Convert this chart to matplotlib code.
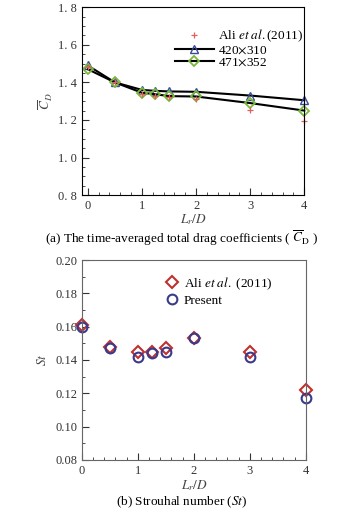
import matplotlib
matplotlib.use("Agg")
import matplotlib.pyplot as plt
from matplotlib.ticker import MultipleLocator

plt.rcParams['font.family'] = ['Liberation Serif', 'DejaVu Serif']
plt.rcParams['mathtext.fontset'] = 'stix'

# gap ratio Lr/D
lr = [0, 0.5, 1, 1.25, 1.5, 2, 3, 4]

# time-averaged drag coefficient
cd_ali = [1.48, 1.40, 1.34, 1.33, 1.32, 1.31, 1.255, 1.195]
cd_420 = [1.49, 1.40, 1.36, 1.355, 1.352, 1.35, 1.33, 1.305]
cd_471 = [1.47, 1.40, 1.345, 1.337, 1.327, 1.325, 1.29, 1.25]

# Strouhal number
st_ali = [0.161, 0.148, 0.145, 0.145, 0.147, 0.153, 0.145, 0.122]
st_present = [0.160, 0.147, 0.142, 0.144, 0.145, 0.153, 0.142, 0.117]

cd_ticks = [0.8, 1.0, 1.2, 1.4, 1.6, 1.8]
cd_labels = ['0. 8', '1. 0', '1. 2', '1. 4', '1. 6', '1. 8']

fig = plt.figure(figsize=(3.64, 5.15), dpi=100)

# (a) drag
ax1 = fig.add_axes([0.225, 0.621, 0.611, 0.365])
ax1.plot(lr, cd_420, color='black', lw=1.5, marker='^', ms=6, mfc='none',
         mec='#3a4a9a', mew=1.0, label='420$\\times$310', clip_on=False)
ax1.plot(lr, cd_471, color='black', lw=1.5, marker='D', ms=5.5, mfc='none',
         mec='#7ab83a', mew=1.3, label='471$\\times$352', clip_on=False)
ax1.plot(lr, cd_ali, ls='none', marker='+', ms=4, color='#e06060', mew=0.9,
         label='Ali $\\it{et\\ al.}$(2011)', clip_on=False)
ax1.set_xlim(-0.11, 4.0)
ax1.set_ylim(0.8, 1.8)
ax1.set_xticks([0, 1, 2, 3, 4])
ax1.xaxis.set_minor_locator(MultipleLocator(0.2))
ax1.set_yticks(cd_ticks)
ax1.set_yticklabels(cd_labels)
ax1.yaxis.set_minor_locator(MultipleLocator(0.05))
ax1.tick_params(which='both', direction='in', top=False, right=False,
                labelsize=9, colors='#333333')
ax1.tick_params(which='major', length=5)
ax1.tick_params(which='minor', length=2.5)
ax1.set_xlabel('$L_r/D$', fontsize=9.5, labelpad=0, color='#444444')
ax1.set_ylabel('$\\overline{C}_D$', fontsize=9.5, labelpad=2, color='#444444')
h, l = ax1.get_legend_handles_labels()
ax1.legend([h[2], h[0], h[1]], [l[2], l[0], l[1]], loc='upper right',
           bbox_to_anchor=(1.02, 0.92), frameon=False, fontsize=9.5,
           handlelength=3.0, handletextpad=0.3, labelspacing=0.0,
           borderaxespad=0)
fig.text(0.5, 0.538, '(a) The time-averaged total drag coefficients ( $\\overline{C}_{\\rm D}$ )',
         ha='center', va='center', fontsize=9.5)

# (b) Strouhal number
ax2 = fig.add_axes([0.225, 0.107, 0.615, 0.388])
ax2.plot(lr, st_ali, ls='none', marker='D', ms=6, mfc='none', mec='#c03030',
         mew=1.5, label='Ali $\\it{et\\ al.}$ (2011)', clip_on=False)
ax2.plot(lr, st_present, ls='none', marker='o', ms=7, mfc='none',
         mec='#3a3a8a', mew=1.5, label='Present', clip_on=False)
ax2.set_xlim(0, 4)
ax2.set_ylim(0.08, 0.20)
ax2.set_xticks([0, 1, 2, 3, 4])
ax2.xaxis.set_minor_locator(MultipleLocator(0.2))
ax2.set_yticks([0.08, 0.10, 0.12, 0.14, 0.16, 0.18, 0.20])
ax2.set_yticklabels(['0.08', '0.10', '0.12', '0.14', '0.16', '0.18', '0.20'])
ax2.yaxis.set_minor_locator(MultipleLocator(0.01))
ax2.tick_params(which='both', direction='in', top=False, right=False,
                labelsize=9, colors='#333333')
ax2.tick_params(which='major', length=5)
ax2.tick_params(which='minor', length=2.5)
for s in ax2.spines.values():
    s.set_color('#666666')
ax2.set_xlabel('$L_r/D$', fontsize=9.5, labelpad=1, color='#444444')
ax2.set_ylabel('$St$', fontsize=9.5, labelpad=4, color='#444444')
ax2.legend(loc='upper left', bbox_to_anchor=(0.35, 0.95), frameon=False,
           fontsize=9.5, handlelength=1.0, handletextpad=0.4,
           labelspacing=0.2, borderaxespad=0)
fig.text(0.5, 0.025, '(b) Strouhal number ($\\it{St}$)', ha='center',
         va='center', fontsize=9.5)

fig.savefig('out.png', dpi=100)
